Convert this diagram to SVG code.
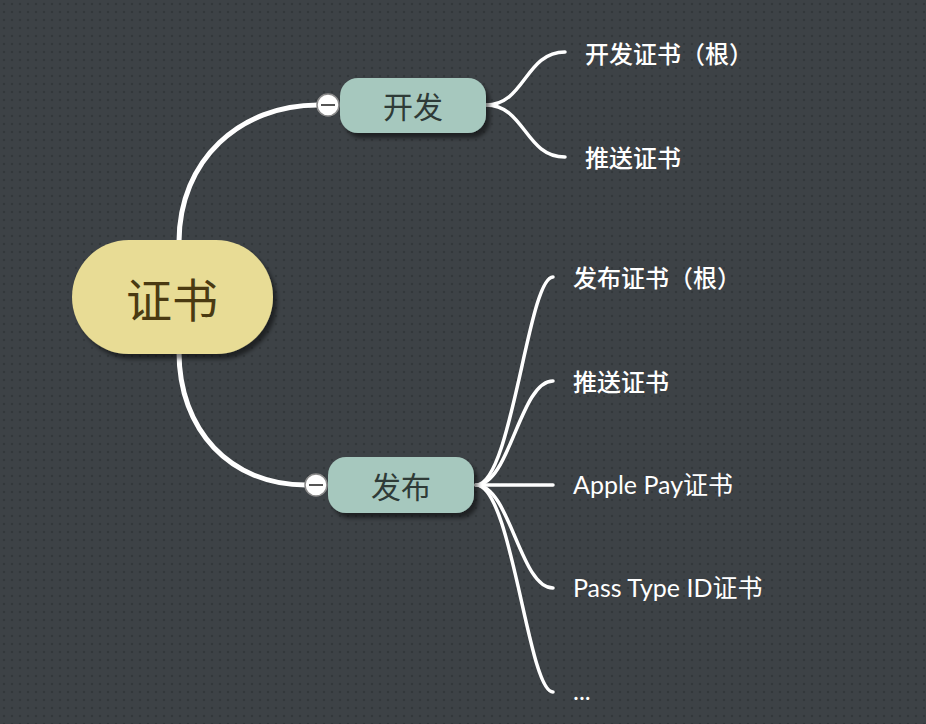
<svg xmlns="http://www.w3.org/2000/svg" width="926" height="724" viewBox="0 0 926 724">
<defs>
<pattern id="dots" width="8" height="8" patternUnits="userSpaceOnUse">
<rect width="8" height="8" fill="#3d4246"/>
<circle cx="4" cy="4" r="1.3" fill="#33383b"/>
</pattern>
<filter id="sh" x="-20%" y="-20%" width="150%" height="160%">
<feGaussianBlur in="SourceAlpha" stdDeviation="2"/>
<feOffset dx="4" dy="5" result="b"/>
<feComponentTransfer><feFuncA type="linear" slope="0.5"/></feComponentTransfer>
<feMerge><feMergeNode/><feMergeNode in="SourceGraphic"/></feMerge>
</filter>
<style>
.main{fill:none;stroke:#ffffff;stroke-width:5;stroke-linecap:round}
.br{fill:none;stroke:#ffffff;stroke-width:3.5;stroke-linecap:round}
.sub{fill:#a6c8be;filter:url(#sh)}
.subt{font-family:"Noto Sans CJK SC","Liberation Sans",sans-serif;font-size:30px;fill:#2f3b37;text-anchor:middle;dominant-baseline:central}
.leaf{font-family:"Noto Sans CJK SC","Liberation Sans",sans-serif;font-size:24px;font-weight:500;fill:#ffffff;dominant-baseline:central}
.leafl{font-family:"Lato","Noto Sans CJK SC",sans-serif;font-size:25px;fill:#ffffff;dominant-baseline:central}
.tog{fill:#ffffff;stroke:#8a8a8a;stroke-width:1.5}
.togm{stroke:#555555;stroke-width:2}
</style>
</defs>
<rect width="926" height="724" fill="url(#dots)"/>
<g id="connectors">
<path class="main" d="M179,242 C179,160 240,105 318,105"/>
<path class="main" d="M179,352 C179,430 230,485 306,485"/>
<path class="br" d="M486,105 C525,105 525,52 565,52"/>
<path class="br" d="M486,105 C525,105 525,157 565,157"/>
<path class="br" d="M476,485 C512,485 528,277 553,277"/>
<path class="br" d="M476,485 C510,485 520,381 553,381"/>
<path class="br" d="M476,485 L553,485"/>
<path class="br" d="M476,485 C510,485 520,588 553,588"/>
<path class="br" d="M476,485 C512,485 528,692 553,692"/>
</g>
<g id="node-root">
<rect x="72" y="240" width="201" height="114" rx="57" fill="#e8dc95" filter="url(#sh)"/>
<text x="172" y="297" font-family="Noto Sans CJK SC,Liberation Sans,sans-serif" font-size="46" fill="#4a3a12" text-anchor="middle" dominant-baseline="central">证书</text>
</g>
<g id="node-kaifa">
<rect class="sub" x="340" y="78" width="146" height="55" rx="18"/>
<text class="subt" x="413" y="105">开发</text>
<circle class="tog" cx="328" cy="105" r="11"/>
<line class="togm" x1="321" y1="105" x2="335" y2="105"/>
</g>
<g id="node-fabu">
<rect class="sub" x="328" y="457" width="146" height="56" rx="18"/>
<text class="subt" x="401" y="485">发布</text>
<circle class="tog" cx="316" cy="485" r="11"/>
<line class="togm" x1="309" y1="485" x2="323" y2="485"/>
</g>
<g id="leaf-kaifa-root"><text class="leaf" x="585" y="52">开发证书（根）</text></g>
<g id="leaf-kaifa-push"><text class="leaf" x="585" y="156">推送证书</text></g>
<g id="leaf-fabu-root"><text class="leaf" x="573" y="276">发布证书（根）</text></g>
<g id="leaf-fabu-push"><text class="leaf" x="573" y="380">推送证书</text></g>
<g id="leaf-applepay"><text class="leafl" x="573" y="484">Apple Pay证书</text></g>
<g id="leaf-passtype"><text class="leafl" x="573" y="587">Pass Type ID证书</text></g>
<g id="leaf-more"><text class="leafl" x="573" y="690">...</text></g>
</svg>
